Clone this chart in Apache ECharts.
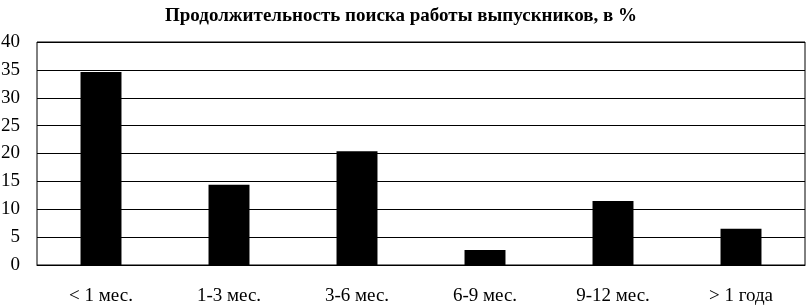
<!DOCTYPE html>
<html><head><meta charset="utf-8">
<script src="https://cdn.jsdelivr.net/npm/echarts@6/dist/echarts.min.js"></script>
<style>html,body{margin:0;padding:0;background:#fff}#c{width:808px;height:305px}</style>
</head><body><div id="c"></div>
<script>
const titleText = 'Продолжительность поиска работы выпускников, в %';
const categories = ['< 1 мес.', '1-3 мес.', '3-6 мес.', '6-9 мес.', '9-12 мес.', '> 1 года'];
const values = [34.6, 14.4, 20.4, 2.7, 11.5, 6.5];
const yMin = 0, yMax = 40, yStep = 5;

const chart = echarts.init(document.getElementById('c'), null, {renderer: 'canvas'});
chart.setOption({
  animation: false,
  backgroundColor: '#fff',
  title: {
    text: titleText, left: 396, top: 2, textAlign: 'center',
    textStyle: {fontFamily: 'Liberation Serif', fontSize: 19, fontWeight: 'bold', color: '#000'}
  },
  grid: {left: 37, right: 3, top: 42, bottom: 40, show: true, borderColor: '#000', borderWidth: 1,
         containLabel: false, outerBoundsMode: 'none'},
  xAxis: {
    type: 'category', data: categories,
    axisLine: {lineStyle: {color: '#000', width: 1}},
    axisTick: {show: false},
    axisLabel: {margin: 22, color: '#000', fontFamily: 'Liberation Serif', fontSize: 19}
  },
  yAxis: {
    type: 'value', min: yMin, max: yMax, interval: yStep,
    axisLine: {show: false}, axisTick: {show: false},
    splitLine: {lineStyle: {color: '#000', width: 1}},
    axisLabel: {margin: 17, color: '#000', fontFamily: 'Liberation Serif', fontSize: 19}
  },
  series: [{
    type: 'bar', data: values, barCategoryGap: '68%',
    itemStyle: {color: '#000'}
  }]
});
</script></body></html>
